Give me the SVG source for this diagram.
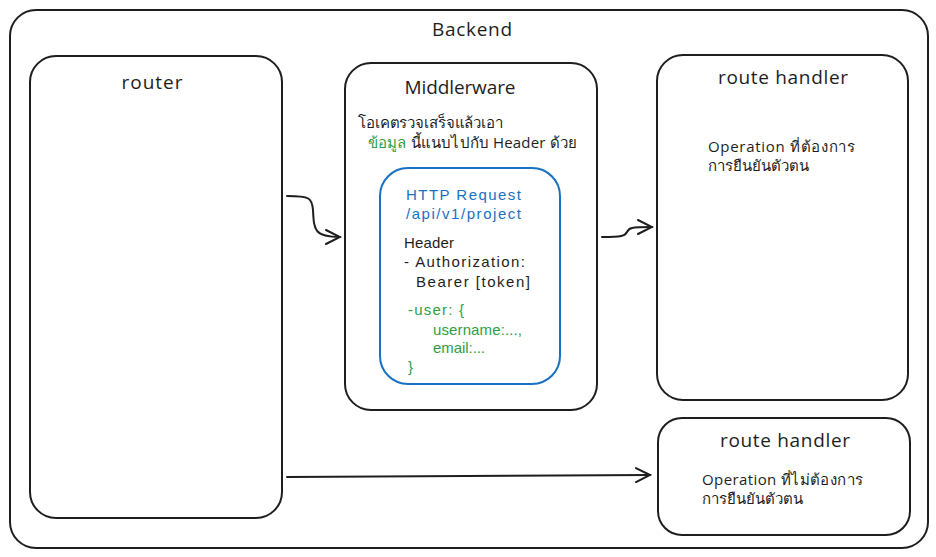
<svg xmlns="http://www.w3.org/2000/svg" width="936" height="557" viewBox="0 0 936 557">
<style>
.box{fill:#fff;stroke:#1e1e1e;stroke-width:2}
.blue{fill:#fff;stroke:#1971c2;stroke-width:2}
.t{font-family:"Open Sans","Noto Sans","DejaVu Sans",sans-serif;fill:#1e1e1e}
.title{font-size:19px;text-anchor:middle}
.b{font-size:15px}
.c{font-family:"Liberation Sans","Noto Sans",sans-serif;font-size:15px;fill:#1e1e1e}
.g{fill:#2f9e44}
.bl{fill:#1971c2}
.conn{fill:none;stroke:#1e1e1e;stroke-width:2;stroke-linecap:round;stroke-linejoin:round}
</style>
<defs>
<marker id="ah" markerWidth="20" markerHeight="20" refX="18" refY="10" orient="auto" markerUnits="userSpaceOnUse">
<path d="M4 3 L18 10 L4 17" fill="none" stroke="#1e1e1e" stroke-width="2" stroke-linecap="round"/>
</marker>
</defs>
<rect width="936" height="557" fill="#fff"/>
<g id="backend">
<rect class="box" x="10" y="10" width="918" height="538" rx="26"/>
<text class="t title" x="472" y="36" textLength="80" lengthAdjust="spacing">Backend</text>
</g>
<g id="router">
<rect class="box" x="30" y="56" width="252" height="462" rx="26"/>
<text class="t title" x="152" y="89" textLength="61" lengthAdjust="spacing">router</text>
</g>
<g id="middleware">
<rect class="box" x="345" y="63" width="252" height="347" rx="26"/>
<text class="t title" x="460" y="94" textLength="111" lengthAdjust="spacing">Middlerware</text>
<text class="t b" x="358" y="128" textLength="145" lengthAdjust="spacing">โอเคตรวจเสร็จแล้วเอา</text>
<text class="t b" x="368" y="148" textLength="209" lengthAdjust="spacing"><tspan class="g">ข้อมูล</tspan> นี้แนบไปกับ Header ด้วย</text>
</g>
<g id="http-request">
<rect class="blue" x="380" y="168" width="180" height="216" rx="28"/>
<text class="c bl" x="406" y="200" textLength="115" lengthAdjust="spacing">HTTP Request</text>
<text class="c bl" x="406" y="219" textLength="115" lengthAdjust="spacing">/api/v1/project</text>
<text class="c" x="404" y="248" textLength="50" lengthAdjust="spacing">Header</text>
<text class="c" x="404" y="267" textLength="121" lengthAdjust="spacing">- Authorization:</text>
<text class="c" x="416" y="287" textLength="114" lengthAdjust="spacing">Bearer [token]</text>
<text class="c g" x="408" y="315" textLength="56" lengthAdjust="spacing">-user: {</text>
<text class="c g" x="433" y="335" textLength="89" lengthAdjust="spacing">username:...,</text>
<text class="c g" x="433" y="353" textLength="52" lengthAdjust="spacing">email:...</text>
<text class="c g" x="408" y="372">}</text>
</g>
<g id="route-handler-1">
<rect class="box" x="657" y="55" width="251" height="345" rx="26"/>
<text class="t title" x="783" y="84" textLength="130" lengthAdjust="spacing">route handler</text>
<text class="t b" x="708" y="152" textLength="147" lengthAdjust="spacing">Operation ที่ต้องการ</text>
<text class="t b" x="708" y="171" textLength="101" lengthAdjust="spacing">การยืนยันตัวตน</text>
</g>
<g id="route-handler-2">
<rect class="box" x="658" y="418" width="252" height="117" rx="24"/>
<text class="t title" x="785" y="447" textLength="130" lengthAdjust="spacing">route handler</text>
<text class="t b" x="702" y="485" textLength="161" lengthAdjust="spacing">Operation ที่ไม่ต้องการ</text>
<text class="t b" x="702" y="504" textLength="101" lengthAdjust="spacing">การยืนยันตัวตน</text>
</g>
<g id="connectors">
<path class="conn" d="M287 196 C 310 196, 312 198, 313 210 C 314 230, 314 237, 340 237" marker-end="url(#ah)"/>
<path class="conn" d="M602 237 C 622 237, 625 236, 627 232 C 629 228, 630 227, 652 227" marker-end="url(#ah)"/>
<path class="conn" d="M287 477 L 650 475" marker-end="url(#ah)"/>
</g>
</svg>
